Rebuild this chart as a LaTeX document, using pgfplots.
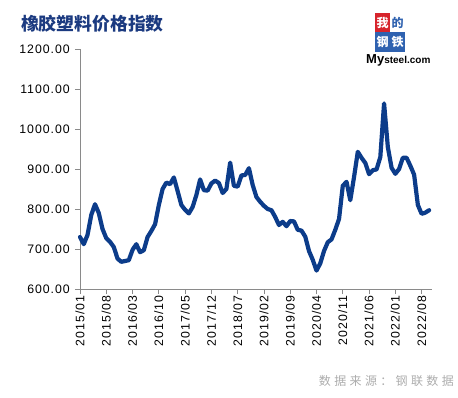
\documentclass[border=0pt]{standalone}
\usepackage{pgfplots}
\pgfplotsset{compat=1.18}
\usepackage{fontspec}
\setmainfont{Liberation Sans}
\newfontfamily\tickfont[LetterSpace=8]{Liberation Sans}
\newfontfamily\cjk{Noto Sans CJK SC}
\newfontfamily\cjkspaced[LetterSpace=28]{Noto Sans CJK SC}
\definecolor{lineblue}{HTML}{0C3C8A}
\definecolor{titleblue}{HTML}{1B3A80}
\definecolor{axisgray}{HTML}{8A8A8A}
\definecolor{logored}{HTML}{D7242C}
\definecolor{logoblue}{HTML}{2F62B0}
\pgfplotstableread{
i v
0 730
1 712
2 735
3 785
4 812
5 790
6 750
7 727
8 718
9 705
10 676
11 668
12 670
13 672
14 698
15 712
16 692
17 697
18 730
19 745
20 762
21 810
22 850
23 866
24 862
25 879
26 845
27 810
28 798
29 789
30 805
31 835
32 874
33 847
34 846
35 864
36 871
37 865
38 840
39 850
40 916
41 858
42 856
43 884
44 885
45 902
46 860
47 830
48 818
49 808
50 800
51 797
52 780
53 760
54 768
55 757
56 770
57 769
58 748
59 746
60 731
61 695
62 673
63 646
64 664
65 695
66 717
67 724
68 748
69 775
70 858
71 868
72 822
73 880
74 943
75 928
76 915
77 887
78 897
79 899
80 930
81 1064
82 955
83 903
84 888
85 900
86 928
87 928
88 908
89 886
90 810
91 788
92 791
93 797
}\datatable
\begin{document}
\begin{tikzpicture}[x=1bp,y=1bp]
\begin{axis}[
  scale only axis, width=352.3bp, height=240bp,
  xmin=0, xmax=93.85, ymin=600, ymax=1200,
  axis x line*=bottom, axis y line*=left,
  axis line style={axisgray, line width=0.8pt, -},
  tick style={axisgray, line width=0.8pt},
  tick align=outside, major tick length=5bp,
  xtick={0,7,...,91},
  xticklabels={2015/01,2015/08,2016/03,2016/10,2017/05,2017/12,2018/07,2019/02,2019/09,2020/04,2020/11,2021/06,2022/01,2022/08},
  xticklabel style={rotate=90, anchor=east, font=\tickfont\fontsize{12.3bp}{12bp}\selectfont, inner sep=1.5bp},
  ytick={600,700,...,1200},
  yticklabels={600.00,700.00,800.00,900.00,1000.00,1100.00,1200.00},
  yticklabel style={font=\tickfont\fontsize{12.3bp}{12bp}\selectfont, inner sep=1bp, xshift=-4bp},
  clip=false,
]
\addplot[lineblue, line width=4.2bp, line join=round, line cap=round, no marks] table[x=i, y=v] {\datatable};
\coordinate (O) at (rel axis cs:0,0);
\end{axis}
\begin{scope}[shift={(O)}, shift={(-80,-108)}]
\pgfresetboundingbox
\path[use as bounding box] (0,0) rectangle (458,397);
% title
\node[anchor=west, text=titleblue, font=\cjk\bfseries\fontsize{17.8bp}{20bp}\selectfont, inner sep=0pt] at (21,373) {橡胶塑料价格指数};
% logo
\fill[logored] (375,365) rectangle (390,384);
\fill[white] (390,365) rectangle (405,384);
\fill[logoblue] (375,345) rectangle (390,365);
\fill[logoblue] (390,345) rectangle (405,365);
\node[text=white, font=\cjk\bfseries\fontsize{12bp}{12bp}\selectfont, inner sep=0pt] at (382.5,374.5) {我};
\node[text=logoblue, font=\cjk\bfseries\fontsize{12bp}{12bp}\selectfont, inner sep=0pt] at (397.5,374.5) {的};
\node[text=white, font=\cjk\bfseries\fontsize{12bp}{12bp}\selectfont, inner sep=0pt] at (382.5,355) {钢};
\node[text=white, font=\cjk\bfseries\fontsize{12bp}{12bp}\selectfont, inner sep=0pt] at (397.5,355) {铁};
\node[anchor=west, inner sep=0pt, font=\bfseries\fontsize{10bp}{10bp}\selectfont] at (366,337) {{\fontsize{13bp}{13bp}\selectfont My}steel.com};
% source
\node[anchor=east, text=gray!65, font=\cjkspaced\fontsize{12bp}{14bp}\selectfont, inner sep=0pt] at (454,16) {数据来源：钢联数据};
\end{scope}
\end{tikzpicture}
\end{document}
